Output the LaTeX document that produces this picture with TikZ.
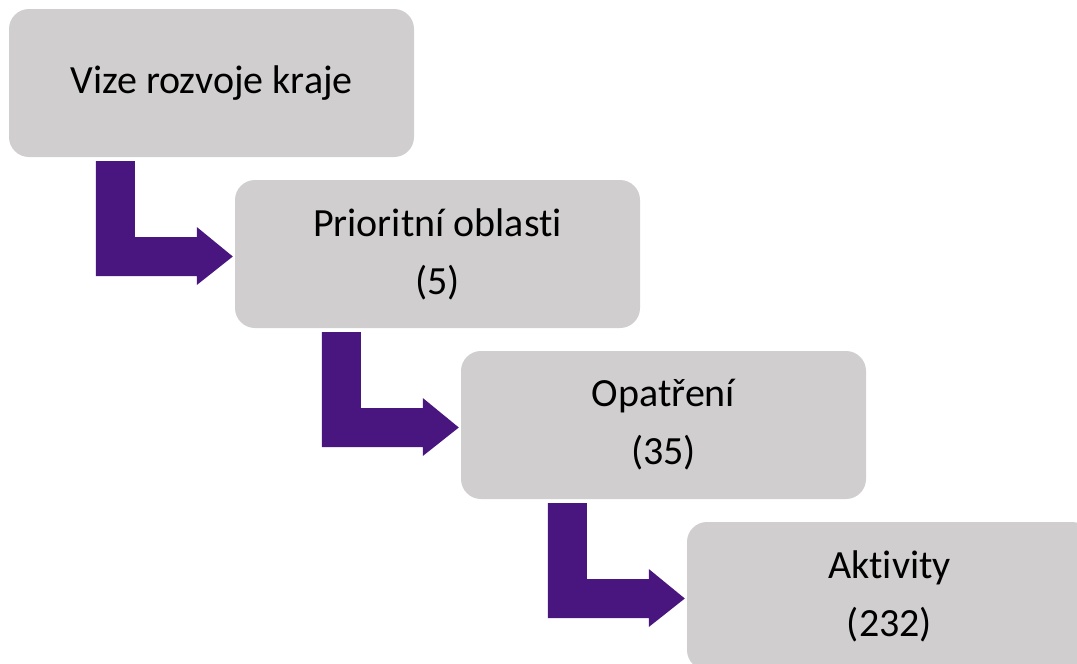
\documentclass[tikz,border=0pt]{standalone}
\usepackage{fontspec}
\setmainfont[Ligatures=NoCommon]{Carlito}
\usetikzlibrary{calc}
\definecolor{boxgray}{RGB}{208,206,207}
\definecolor{arrpurple}{RGB}{72,22,126}
\tikzset{
  stagebox/.style={fill=boxgray, rounded corners=20pt, minimum width=405pt, minimum height=148pt,
    inner sep=0pt, align=center, font=\fontsize{40}{58}\selectfont, text=black},
  larrow/.style={fill=arrpurple}
}
\begin{document}
\begin{tikzpicture}[x=1pt,y=-1pt]
\useasboundingbox (0,0) rectangle (1077,664);
\clip (0,0) rectangle (1077,664);
\node[stagebox] (b1) at (211.5,83) {Vize rozvoje kraje};
\node[stagebox] (b2) at (437.5,254) {Prioritní oblasti\\(5)};
\node[stagebox] (b3) at (663.5,425) {Opatření\\(35)};
\node[stagebox] (b4) at (889.5,596) {Aktivity\\(232)};
\foreach \a/\b in {b1/b2,b2/b3,b3/b4}{
  \fill[larrow] ($(\b.west)+(-139,-93)$) -- ($(\b.west)+(-100,-93)$) -- ($(\b.west)+(-100,-17)$)
    -- ($(\b.west)+(-38,-17)$) -- ($(\b.west)+(-38,-27)$) -- ($(\b.west)+(-2,2.5)$)
    -- ($(\b.west)+(-38,31)$) -- ($(\b.west)+(-38,22)$) -- ($(\b.west)+(-139,22)$) -- cycle;
}
\end{tikzpicture}
\end{document}
